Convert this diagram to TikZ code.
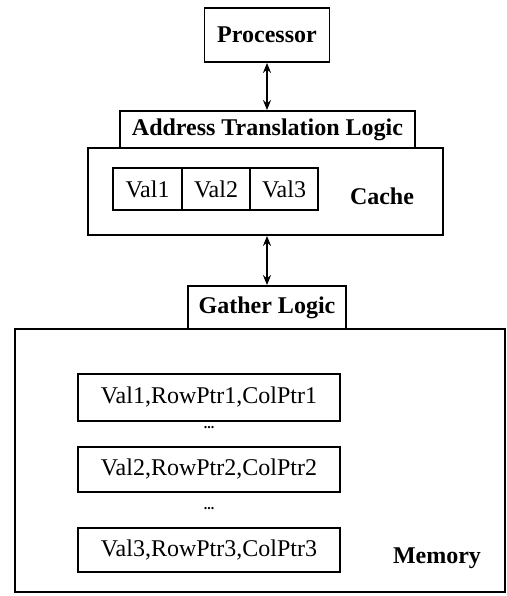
\documentclass[tikz,border=0pt]{standalone}
\usepackage{fontspec}
\setmainfont{Liberation Serif}
\usetikzlibrary{arrows.meta}

\begin{document}
\begin{tikzpicture}[x=0.5pt,y=-0.5pt,
    box/.style={draw,line width=0.9pt,inner sep=0pt,font=\fontsize{12}{14}\selectfont},
    lbl/.style={font=\bfseries\fontsize{12}{14}\selectfont},
    link/.style={{Stealth[length=5pt,width=4pt]}-{Stealth[length=5pt,width=4pt]},line width=0.9pt}]

    \useasboundingbox (0,0) rectangle (507,596);

    % processor and cache side
    \node[box,lbl,minimum width=62.5pt,minimum height=27pt] (proc) at (267,35) {Processor};
    \node[box,lbl,minimum width=147.5pt,minimum height=18.5pt] (atl) at (267.5,129.5) {Address Translation Logic};
    \node[box,minimum width=177.5pt,minimum height=43.5pt] (cache) at (265.5,191.5) {};
    \node[box,minimum width=34.5pt,minimum height=21pt] (val1) at (147.5,189) {Val1};
    \node[box,minimum width=34pt,minimum height=21pt] (val2) at (216,189) {Val2};
    \node[box,minimum width=34pt,minimum height=21pt] (val3) at (284,189) {Val3};
    \node[lbl] (cachelbl) at (382,196) {Cache};

    % memory side
    \node[box,lbl,minimum width=79pt,minimum height=21.5pt] (gather) at (267,307.5) {Gather Logic};
    \node[box,minimum width=245pt,minimum height=131.5pt] (mem) at (260,460.5) {};
    \node[box,minimum width=131pt,minimum height=23.5pt] (row1) at (209,397.5) {Val1,RowPtr1,ColPtr1};
    \node[box,minimum width=131pt,minimum height=22.5pt] (row2) at (209,469.5) {Val2,RowPtr2,ColPtr2};
    \node[box,minimum width=131pt,minimum height=22pt] (row3) at (209,550) {Val3,RowPtr3,ColPtr3};
    \node[font=\bfseries\scriptsize] (dots1) at (209,428) {...};
    \node[font=\bfseries\scriptsize] (dots2) at (209,509) {...};
    \node[lbl] (memlbl) at (437,558) {Memory};

    \draw[link] (proc.south) -- (proc.south |- atl.north);
    \draw[link] (gather.north |- cache.south) -- (gather.north);
\end{tikzpicture}
\end{document}
